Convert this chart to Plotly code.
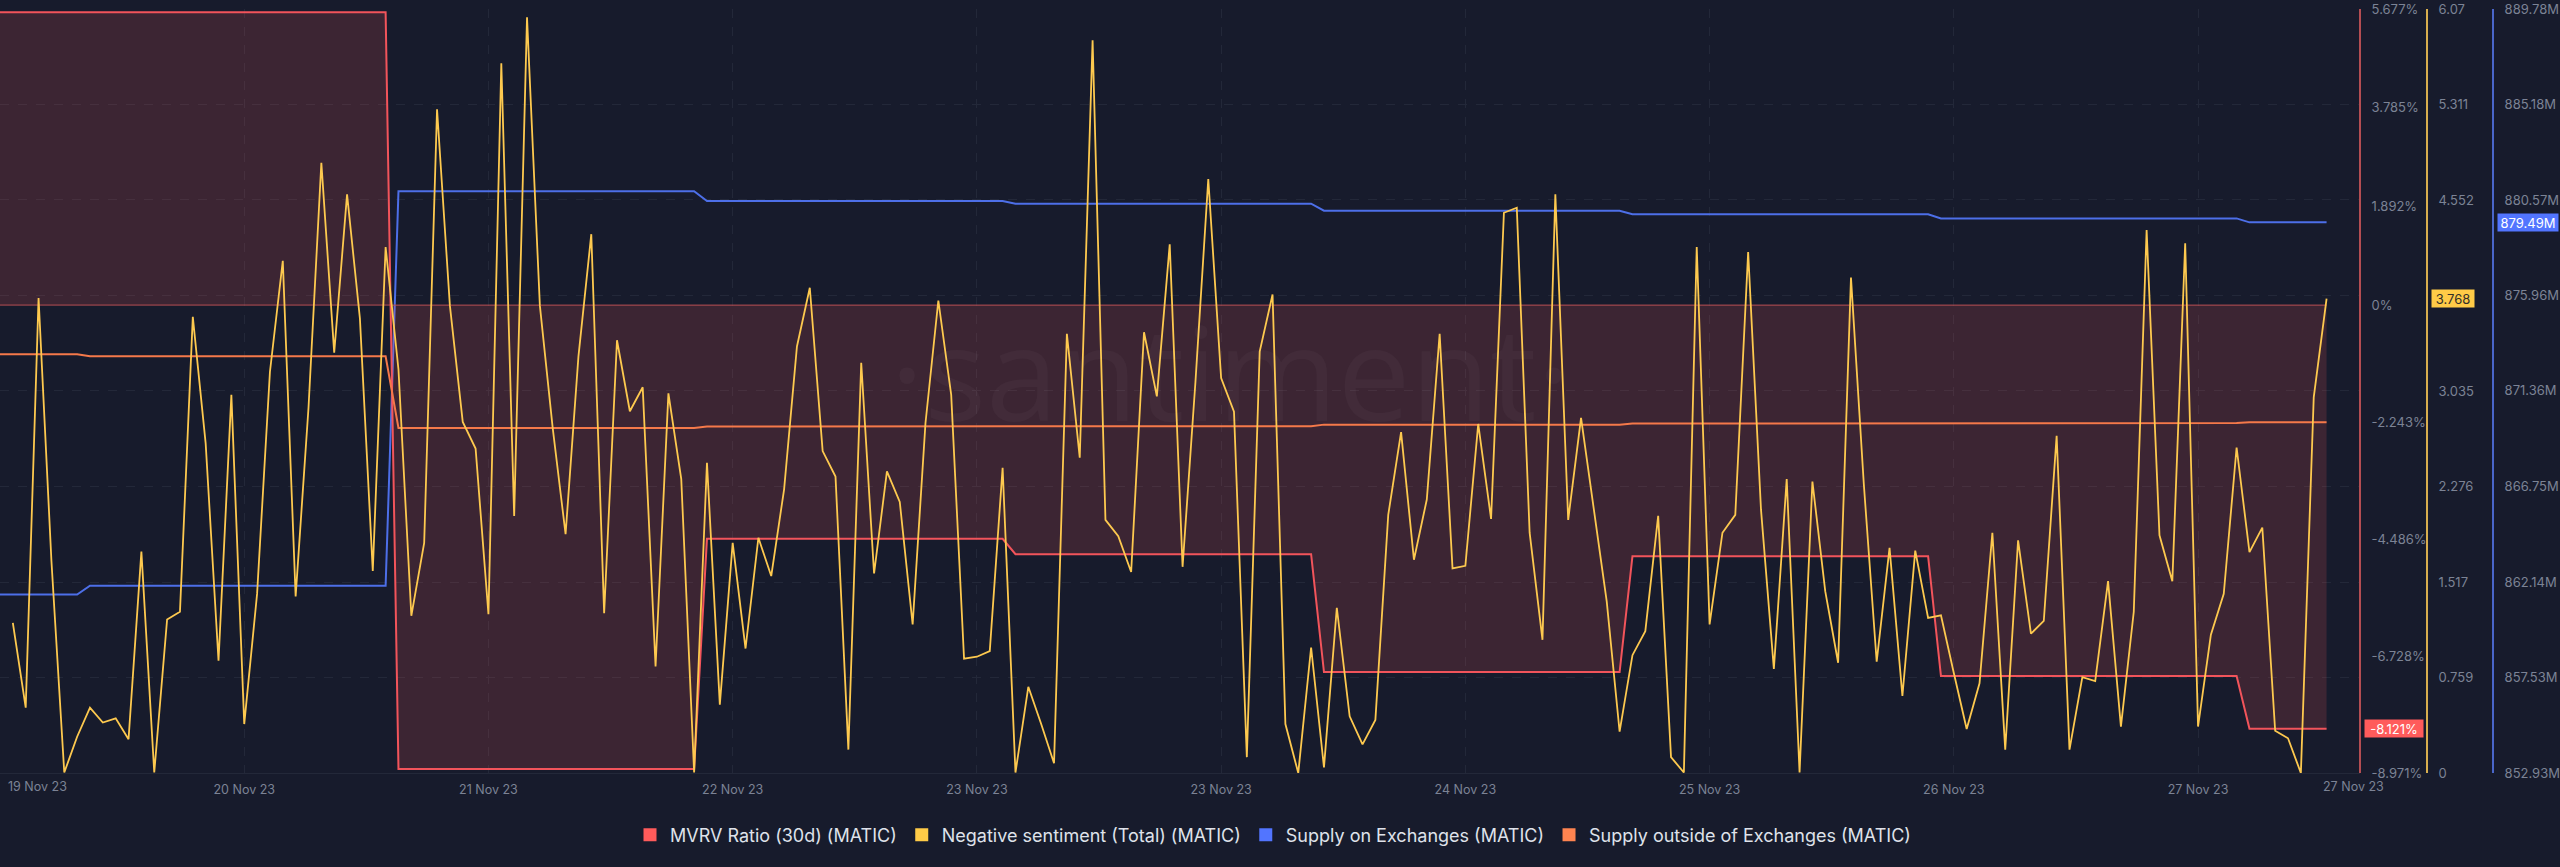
import plotly.graph_objects as go

# samples (first slot has no sentiment reading, the other series start one step earlier)
samples = list(range(-1, 181))

negative_sentiment = [
    None,
    1.192, 0.519, 3.774, 1.686, 0.004, 0.288, 0.519, 0.401, 0.434, 0.268,
    1.759, 0.004, 1.220, 1.281, 3.624, 2.619, 0.892, 3.004, 0.389, 1.423,
    3.186, 4.070, 1.403, 2.902, 4.848, 3.340, 4.597, 3.612, 1.605, 4.179,
    3.206, 1.249, 1.828, 5.274, 3.713, 2.789, 2.578, 1.261, 5.639, 2.043,
    6.004, 3.713, 2.740, 1.897, 3.308, 4.281, 1.269, 3.438, 2.874, 3.065,
    0.847, 3.016, 2.335, 0.004, 2.465, 0.543, 1.828, 0.989, 1.869, 1.565,
    2.254, 3.389, 3.855, 2.558, 2.355, 0.186, 3.259, 1.585, 2.396, 2.153,
    1.180, 2.781, 3.754, 3.004, 0.908, 0.924, 0.969, 2.424, 0.004, 0.685,
    0.389, 0.077, 3.490, 2.505, 5.821, 2.011, 1.881, 1.597, 3.502, 2.992,
    4.200, 1.638, 3.105, 4.719, 3.138, 2.870, 0.126, 3.348, 3.802, 0.389,
    0.0, 0.997, 0.045, 1.313, 0.450, 0.227, 0.422, 2.051, 2.708, 1.694,
    2.173, 3.490, 1.626, 1.646, 2.773, 2.019, 4.451, 4.491, 1.909, 1.058,
    4.597, 2.011, 2.821, 2.092, 1.362, 0.328, 0.936, 1.127, 2.043, 0.126,
    0.004, 4.179, 1.180, 1.909, 2.051, 4.139, 2.092, 0.827, 2.335, 0.004,
    2.315, 1.443, 0.876, 3.936, 2.294, 0.884, 1.788, 0.612, 1.767, 1.232,
    1.253, 0.795, 0.349, 0.713, 1.909, 0.186, 1.849, 1.107, 1.208, 2.679,
    0.186, 0.762, 0.730, 1.524, 0.369, 1.281, 4.313, 1.889, 1.524, 4.208,
    0.369, 1.099, 1.423, 2.586, 1.755, 1.950, 0.336, 0.276, 0.0, 2.984,
    3.768,
]

mvrv = ([5.616]*31 + [-8.894]*24 + [-4.481]*24 + [-4.775]*24
        + [-7.035]*24 + [-4.814]*24 + [-7.113]*24 + [-8.121]*7)
mvrv_zero = [0]*182

supply_on = ([861.54]*7 + [861.96]*24 + [880.99]*24 + [880.52]*24 + [880.39]*24
             + [880.05]*24 + [879.88]*24 + [879.68]*24 + [879.49]*7)
supply_out = ([9139.5]*7 + [9139.0]*24 + [9120.0]*24 + [9120.4]*24 + [9120.5]*24
              + [9120.9]*24 + [9121.2]*24 + [9121.3]*24 + [9121.5]*7)

date_ticks = [18, 37, 56, 75, 94, 113, 132, 151, 170]
date_labels = ["20 Nov 23", "21 Nov 23", "22 Nov 23", "23 Nov 23", "23 Nov 23",
               "24 Nov 23", "25 Nov 23", "26 Nov 23", "27 Nov 23"]

mvrv_ticks = [5.677, 3.785, 1.892, 0, -2.243, -4.486, -6.728, -8.971]
mvrv_labels = ["5.677%", "3.785%", "1.892%", "0%", "-2.243%", "-4.486%", "-6.728%", "-8.971%"]
sentiment_ticks = [6.07, 5.311, 4.552, 3.793, 3.035, 2.276, 1.517, 0.759, 0]
sentiment_labels = ["6.07", "5.311", "4.552", "", "3.035", "2.276", "1.517", "0.759", "0"]
supply_ticks = [889.78, 885.18, 880.57, 875.96, 871.36, 866.75, 862.14, 857.53, 852.93]
supply_labels = ["889.78M", "885.18M", "880.57M", "875.96M", "871.36M", "866.75M", "862.14M", "857.53M", "852.93M"]

series_names = ["MVRV Ratio (30d) (MATIC)", "Negative sentiment (Total) (MATIC)",
                "Supply on Exchanges (MATIC)", "Supply outside of Exchanges (MATIC)"]

BG = "#171b2c"
GRID = "#232839"
TXT = "#7c8395"
RED = "#ff5b5b"
YELLOW = "#ffcb47"
BLUE = "#5275ff"
ORANGE = "#ff8450"
FONT = "Inter"

W, H = 2560, 867
plot_right = 2360 / W
y_dom = [(H - 773) / H, (H - 9) / H]

fig = go.Figure()

# the real lines
fig.add_trace(go.Scatter(x=samples, y=supply_on, yaxis="y", mode="lines",
                         line=dict(color="#4d6fe8", width=2), showlegend=False))
fig.add_trace(go.Scatter(x=samples, y=mvrv_zero, yaxis="y2", mode="lines",
                         line=dict(color="#b34d52", width=1), showlegend=False))
fig.add_trace(go.Scatter(x=samples, y=mvrv, yaxis="y2", mode="lines",
                         line=dict(color="#f2545b", width=2), fill="tozeroy",
                         fillcolor="rgba(255,91,91,0.16)", showlegend=False))
fig.add_trace(go.Scatter(x=samples, y=supply_out, yaxis="y3", mode="lines",
                         line=dict(color="#f5794a", width=2), showlegend=False))
fig.add_trace(go.Scatter(x=samples, y=negative_sentiment, yaxis="y4", mode="lines",
                         line=dict(color="#fdc94f", width=1.8), showlegend=False))

# legend entries with square swatches
for name, color in zip(series_names, [RED, YELLOW, BLUE, ORANGE]):
    fig.add_trace(go.Scatter(x=[None], y=[None], mode="markers", name=name,
                             marker=dict(symbol="square", size=13, color=color)))

x_tick_font = dict(family=FONT, size=12.5, color=TXT)
y_tick_font = dict(family=FONT, size=13, color=TXT)

fig.update_layout(
    width=W, height=H,
    margin=dict(l=0, r=0, t=0, b=0, autoexpand=False),
    paper_bgcolor=BG, plot_bgcolor=BG,
    font=dict(family=FONT, color=TXT),
    showlegend=True,
    legend=dict(orientation="h", x=1273 / W, xanchor="center", y=(H - 835) / H, yanchor="middle",
                font=dict(family=FONT, size=18, color="#dfe2ea"), itemwidth=30,
                bgcolor="rgba(0,0,0,0)"),
    xaxis=dict(domain=[0, plot_right], range=[-1, 182.6], tickmode="array",
               tickvals=date_ticks, ticktext=date_labels, tickfont=x_tick_font,
               showgrid=True, gridcolor=GRID, griddash="dash", gridwidth=1,
               zeroline=False, showline=True, linecolor=GRID, ticks="", ticklabelstandoff=5,
               anchor="y"),
    yaxis=dict(domain=y_dom, range=[852.93, 889.78], anchor="free", position=2493 / W, side="right",
               tickmode="array", tickvals=supply_ticks, ticktext=supply_labels, tickfont=y_tick_font,
               showgrid=True, gridcolor=GRID, griddash="dash", zeroline=False,
               showline=True, linecolor="#4a66c9", linewidth=2, ticks="", ticklabelstandoff=8),
    yaxis2=dict(domain=y_dom, range=[-8.971, 5.677], overlaying="y", anchor="free", position=plot_right,
                side="right", tickmode="array", tickvals=mvrv_ticks, ticktext=mvrv_labels,
                tickfont=y_tick_font, showgrid=False, zeroline=False,
                showline=True, linecolor="#b34d52", linewidth=2, ticks="", ticklabelstandoff=8),
    yaxis3=dict(domain=y_dom, range=[9028.7, 9230.9], overlaying="y", visible=False),
    yaxis4=dict(domain=y_dom, range=[0, 6.07], overlaying="y", anchor="free", position=2427 / W,
                side="right", tickmode="array", tickvals=sentiment_ticks, ticktext=sentiment_labels,
                tickfont=y_tick_font, showgrid=False, zeroline=False,
                showline=True, linecolor="#d8ae4e", linewidth=2, ticks="", ticklabelstandoff=8),
)

# watermark
fig.add_annotation(text="·santiment·", xref="paper", yref="paper", x=1230 / W, y=(H - 370) / H,
                   xanchor="center", yanchor="middle", showarrow=False,
                   font=dict(family="Open Sans", size=130, color="rgba(255,255,255,0.03)"))

# date labels that sit at the edges, no gridline there
for label, px in [("19 Nov 23", 37), ("27 Nov 23", 2353)]:
    fig.add_annotation(text=label, xref="paper", yref="paper", x=px / W, y=(H - 786) / H,
                       xanchor="center", yanchor="middle", showarrow=False, font=x_tick_font)

# last value tags
tags = [("-8.121%", -8.121, "y2", 2364, 58, RED, "#ffffff"),
        ("3.768", 3.768, "y4", 2431, 42, YELLOW, "#33302a"),
        ("879.49M", 879.49, "y", 2497, 60, BLUE, "#ffffff")]
for text, value, yref, px, box_w, bg, fg in tags:
    fig.add_annotation(text=text, xref="paper", yref=yref, x=px / W, y=value, xanchor="left",
                       yanchor="middle", showarrow=False, bgcolor=bg, borderpad=0,
                       width=box_w, height=17, align="center",
                       font=dict(family=FONT, size=13, color=fg))

fig.write_html("out.html", config=dict(displayModeBar=False),
               post_script="document.body.style.margin='0';")
